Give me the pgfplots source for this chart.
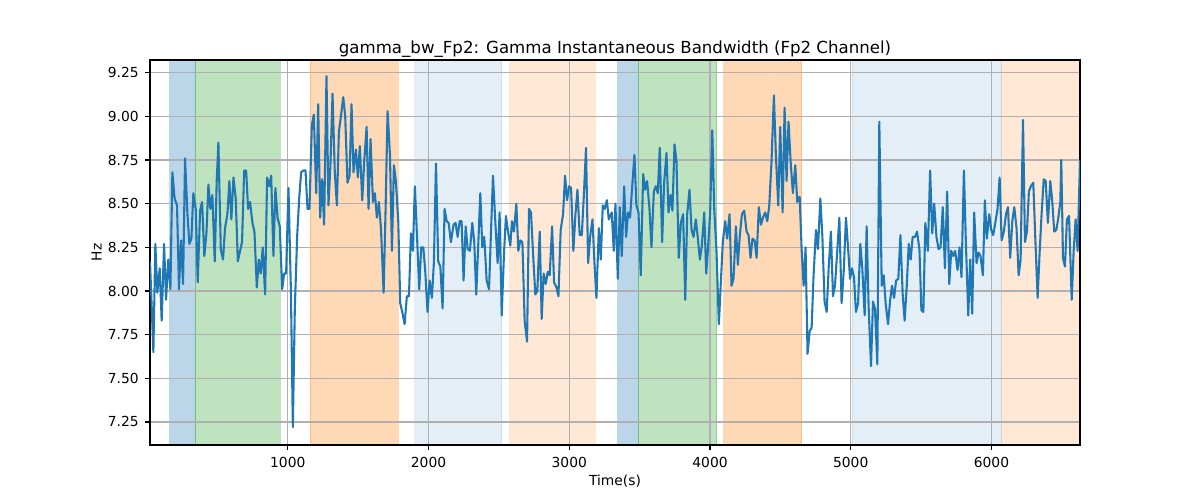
\documentclass[border=0pt]{standalone}
\usepackage{fontspec}
\setmainfont{DejaVu Sans}
\usepackage{pgfplots}
\pgfplotsset{compat=1.18}
\definecolor{tabblue}{HTML}{1F77B4}
\definecolor{taborange}{HTML}{FF7F0E}
\definecolor{tabgreen}{HTML}{2CA02C}
\definecolor{gridgray}{HTML}{B0B0B0}
\pgfplotstableread{
x y
21 8.17
45 7.65
59 8.27
73 7.99
90 8.13
104 7.83
121 8.27
135 7.95
151 8.18
166 8.01
180 8.68
196 8.53
213 8.49
227 8.01
241 8.29
256 8.04
270 8.76
287 8.44
301 8.27
315 8.30
329 8.56
346 8.47
360 8.05
377 8.46
391 8.51
407 8.20
422 8.33
436 8.61
450 8.47
464 8.55
481 8.17
495 8.63
507 8.85
524 8.24
540 8.18
554 8.36
571 8.44
585 8.63
599 8.41
614 8.65
630 8.53
645 8.17
661 8.23
675 8.28
690 8.69
704 8.69
718 8.47
732 8.51
749 8.39
763 8.34
780 8.02
794 8.18
808 8.10
822 8.25
839 7.98
853 8.65
867 8.60
882 8.66
898 8.20
912 8.59
927 8.42
943 8.37
960 8.01
974 8.10
988 8.10
1005 8.59
1022 8.01
1036 7.22
1050 7.90
1067 8.32
1081 8.53
1095 8.68
1112 8.69
1126 8.69
1140 8.47
1154 8.47
1171 8.95
1185 9.01
1202 8.56
1216 9.07
1230 8.42
1244 8.64
1258 8.38
1275 9.23
1289 8.49
1303 8.72
1318 9.13
1334 8.68
1349 8.49
1363 8.91
1379 9.01
1394 9.11
1408 9.00
1424 8.62
1439 8.66
1453 9.07
1467 8.68
1484 8.81
1498 8.65
1512 8.83
1529 8.52
1543 8.74
1560 8.94
1574 8.47
1588 8.87
1605 8.51
1619 8.56
1633 8.42
1647 8.51
1662 8.36
1681 7.99
1695 8.47
1709 9.03
1726 8.78
1740 8.23
1754 8.72
1768 8.63
1785 8.40
1799 7.93
1816 7.87
1830 7.81
1846 7.97
1861 7.97
1875 8.33
1889 8.23
1903 8.60
1920 8.28
1934 8.01
1948 8.25
1963 8.25
1977 8.11
1993 7.88
2008 8.06
2024 7.96
2038 8.16
2053 8.73
2069 8.17
2084 8.14
2100 7.90
2114 8.47
2129 8.40
2143 8.39
2159 8.28
2178 8.38
2192 8.39
2207 8.31
2221 8.40
2235 8.40
2249 8.06
2264 8.37
2278 8.24
2294 8.23
2311 8.39
2325 8.28
2339 7.98
2354 8.28
2368 8.56
2382 8.25
2396 8.31
2413 8.06
2430 8.01
2444 8.34
2458 8.66
2475 8.39
2491 8.16
2505 8.45
2520 7.86
2536 8.21
2550 8.43
2565 8.34
2581 8.26
2593 8.40
2607 8.34
2624 8.50
2638 8.23
2652 8.29
2667 8.28
2683 7.83
2700 7.71
2714 8.47
2728 8.45
2745 8.18
2759 7.98
2773 8.00
2790 8.34
2804 7.84
2818 8.10
2833 8.04
2847 8.11
2861 8.09
2878 8.37
2892 8.05
2909 8.02
2923 7.97
2939 8.35
2956 8.44
2970 8.66
2984 8.52
2999 8.60
3013 8.59
3029 8.23
3044 8.44
3058 8.58
3074 8.32
3089 8.32
3105 8.57
3119 8.82
3134 8.16
3148 8.31
3165 8.41
3179 8.16
3193 7.96
3210 8.36
3224 8.18
3238 8.49
3252 8.47
3267 8.52
3281 8.41
3302 8.45
3316 8.23
3328 8.50
3345 8.07
3359 8.48
3373 8.20
3390 8.60
3404 8.31
3418 8.45
3432 8.42
3449 8.62
3463 8.78
3477 8.49
3492 8.45
3508 8.09
3525 8.67
3539 8.58
3553 8.63
3570 8.47
3584 8.25
3601 8.57
3615 8.60
3629 8.56
3643 8.82
3660 8.28
3674 8.62
3691 8.79
3705 8.45
3719 8.55
3733 8.46
3748 8.84
3762 8.74
3778 8.19
3793 8.39
3809 8.44
3824 7.95
3838 8.44
3854 8.58
3869 8.35
3883 8.31
3899 8.41
3914 8.30
3928 8.18
3942 8.26
3959 8.45
3973 8.10
3987 8.26
4001 8.45
4016 8.92
4030 8.47
4046 8.23
4063 7.81
4077 8.05
4091 8.28
4108 8.40
4122 8.30
4139 8.44
4153 8.03
4167 8.07
4184 8.37
4198 8.15
4212 8.32
4227 8.44
4243 8.46
4260 8.34
4274 8.32
4288 8.19
4302 8.30
4317 8.29
4331 8.19
4347 8.48
4362 8.38
4376 8.42
4392 8.45
4407 8.40
4421 8.49
4437 8.74
4454 9.12
4468 8.78
4485 8.49
4499 8.94
4516 8.45
4530 9.05
4544 8.63
4558 8.97
4573 8.74
4589 8.56
4606 8.72
4620 8.51
4637 8.54
4651 8.24
4665 8.03
4679 8.25
4693 7.64
4708 7.77
4722 7.79
4736 8.09
4753 8.35
4767 8.24
4784 8.53
4798 8.32
4814 7.94
4829 7.88
4843 8.13
4859 8.34
4874 7.97
4888 8.03
4905 8.24
4919 8.42
4935 7.93
4950 8.11
4966 8.42
4980 8.26
4995 8.07
5009 8.13
5023 8.08
5037 7.88
5052 7.93
5068 8.27
5082 8.13
5099 7.86
5113 8.37
5127 7.91
5144 7.57
5158 7.94
5172 7.90
5189 7.58
5203 8.97
5220 8.03
5234 8.09
5248 7.93
5265 7.81
5279 7.94
5293 8.03
5308 7.96
5322 8.06
5338 8.07
5353 8.32
5369 7.98
5383 7.83
5398 8.03
5412 8.27
5426 8.18
5440 8.31
5457 8.31
5471 8.34
5488 8.24
5502 7.89
5516 7.88
5530 8.39
5548 8.23
5564 8.69
5579 8.33
5593 8.50
5609 8.31
5624 8.24
5638 8.25
5654 8.48
5669 8.13
5685 8.57
5700 8.04
5714 8.23
5728 8.20
5742 8.23
5759 8.12
5773 8.25
5787 8.08
5804 8.69
5818 8.28
5835 7.86
5849 8.18
5863 7.87
5877 8.45
5894 8.16
5908 8.22
5922 8.20
5939 8.09
5953 8.52
5967 8.30
5984 8.44
5998 8.35
6012 8.32
6027 8.39
6043 8.47
6058 8.65
6072 8.29
6088 8.34
6103 8.44
6117 8.48
6133 8.19
6148 8.40
6162 8.48
6178 8.36
6193 8.09
6207 8.18
6224 8.98
6238 8.28
6252 8.34
6266 8.57
6280 8.60
6297 8.62
6311 8.31
6328 7.96
6342 8.22
6356 8.44
6371 8.64
6385 8.63
6401 8.39
6418 8.63
6432 8.51
6446 8.34
6461 8.35
6475 8.42
6489 8.51
6496 8.75
6508 8.19
6522 8.14
6536 8.41
6551 8.43
6570 7.95
6584 8.23
6598 8.41
6612 8.23
6629 8.75
}\datatable
\begin{document}
\begin{tikzpicture}
\begin{axis}[
  at={(0,0)}, anchor=south west,
  set layers,
  scale only axis, width=669.6bp, height=277.2bp,
  xmin=21, xmax=6629, ymin=7.118, ymax=9.323,
  axis line style={line width=0.8bp},
  tick align=outside, major tick length=3.5bp,
  tick style={black, line width=0.8bp},
  xtick={1000,2000,3000,4000,5000,6000},
  ytick={7.25,7.5,7.75,8,8.25,8.5,8.75,9,9.25},
  xtick pos=bottom, ytick pos=left,
  grid=major, major grid style={gridgray, line width=0.8bp},
  /pgf/number format/assume math mode=true,
  /pgf/number format/1000 sep={},
  y tick label style={/pgf/number format/fixed, /pgf/number format/fixed zerofill, /pgf/number format/precision=2},
  x tick label style={font=\fontsize{10}{12}\selectfont, anchor=north, inner sep=0pt, yshift=-5.4bp},
  y tick label style={font=\fontsize{10}{12}\selectfont, anchor=east, inner sep=0pt, xshift=-4.5bp},
  title={gamma\_bw\_Fp2: Gamma Instantaneous Bandwidth (Fp2 Channel)},
  title style={at={(axis description cs:0.5,1)}, anchor=base, inner sep=0pt, yshift=-1bp, font=\fontsize{12}{14}\selectfont},
  xlabel={Time(s)},
  xlabel style={at={(axis description cs:0.5,0)}, anchor=north, inner sep=0pt, yshift=-21.5bp, font=\fontsize{10}{12}\selectfont},
  ylabel={Hz},
  ylabel style={at={(axis description cs:-0.0517,0.5)}, anchor=south, inner sep=0pt, font=\fontsize{10}{12}\selectfont},
  spanstyle/.style={on layer=axis background, fill=#1, draw=#1, line width=0.7bp},
]
\addplot[spanstyle=tabblue, fill opacity=0.3, draw opacity=0.3] coordinates {(160,7.118) (160,9.323) (343,9.323) (343,7.118)};
\addplot[spanstyle=tabgreen, fill opacity=0.3, draw opacity=0.3] coordinates {(343,7.118) (343,9.323) (946,9.323) (946,7.118)};
\addplot[spanstyle=taborange, fill opacity=0.3, draw opacity=0.3] coordinates {(1161,7.118) (1161,9.323) (1785,9.323) (1785,7.118)};
\addplot[spanstyle=tabblue, fill opacity=0.12, draw opacity=0.12] coordinates {(1901,7.118) (1901,9.323) (2520,9.323) (2520,7.118)};
\addplot[spanstyle=taborange, fill opacity=0.17, draw opacity=0.17] coordinates {(2577,7.118) (2577,9.323) (3186,9.323) (3186,7.118)};
\addplot[spanstyle=tabblue, fill opacity=0.3, draw opacity=0.3] coordinates {(3345,7.118) (3345,9.323) (3490,9.323) (3490,7.118)};
\addplot[spanstyle=tabgreen, fill opacity=0.3, draw opacity=0.3] coordinates {(3490,7.118) (3490,9.323) (4047,9.323) (4047,7.118)};
\addplot[spanstyle=taborange, fill opacity=0.3, draw opacity=0.3] coordinates {(4099,7.118) (4099,9.323) (4651,9.323) (4651,7.118)};
\addplot[spanstyle=tabblue, fill opacity=0.12, draw opacity=0.12] coordinates {(5009,7.118) (5009,9.323) (6072,9.323) (6072,7.118)};
\addplot[spanstyle=taborange, fill opacity=0.17, draw opacity=0.17] coordinates {(6072,7.118) (6072,9.323) (6629,9.323) (6629,7.118)};
\addplot[tabblue, line width=1.5bp, line join=round, mark=none] table[x=x, y=y] {\datatable};
\end{axis}
\path[use as bounding box] (-108bp,-39.6bp) rectangle (756bp,320.4bp);
\end{tikzpicture}
\end{document}
